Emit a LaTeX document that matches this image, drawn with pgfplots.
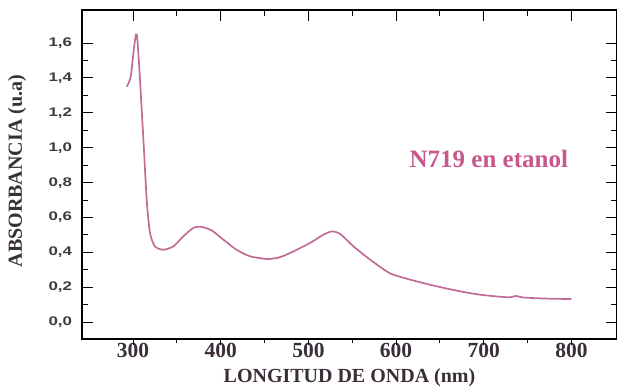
\documentclass[border=0pt]{standalone}
\usepackage{pgfplots}
\pgfplotsset{compat=1.18}
\usepackage{fontspec}
\setmainfont{Liberation Serif}
\newfontfamily\ysans[FakeStretch=1.35]{Liberation Sans}
\definecolor{curvec}{RGB}{192,108,150}
\definecolor{textc}{RGB}{200,88,140}
\definecolor{xlabc}{RGB}{58,46,56}
\definecolor{ylabc}{RGB}{60,60,60}
\begin{document}
\begin{tikzpicture}
\useasboundingbox (-82pt,-47pt) rectangle (535pt,339pt);
\begin{axis}[
  scale only axis, width=535pt, height=329pt,
  xmin=241.8, xmax=852, ymin=-0.097, ymax=1.79,
  xtick={300,400,500,600,700,800},
  ytick={0,0.2,0.4,0.6,0.8,1.0,1.2,1.4,1.6},
  minor x tick num=1, minor y tick num=1,
  tick align=inside,
  xtick pos=upper, xticklabel pos=lower,
  ytick pos=both, yticklabel pos=left,
  major tick length=11pt, minor tick length=6pt,
  every tick/.style={black, line width=1pt},
  axis line style={line width=1.1pt, black},
  /pgf/number format/assume math mode=true,
  yticklabel style={/pgf/number format/.cd, use comma, fixed, fixed zerofill, precision=1,
     /tikz/.cd, font=\ysans\bfseries\fontsize{12.5}{14}\selectfont, text=ylabc, xshift=-6.5pt},
  xticklabel style={font=\bfseries\fontsize{21.5}{23}\selectfont, text=xlabc, inner sep=1pt, yshift=-3pt},
  xlabel={LONGITUD DE ONDA (nm)},
  ylabel={ABSORBANCIA (u.a)},
  xlabel style={at={(axis description cs:0.5,0)}, anchor=center, yshift=-39pt,
     font=\bfseries\fontsize{20}{22}\selectfont, text=xlabc},
  ylabel style={at={(axis description cs:-0.1215,0.51)}, anchor=center,
     font=\bfseries\fontsize{20}{22}\selectfont, text=xlabc},
]
\addplot[curvec, line width=1.7pt, smooth, tension=0.4] coordinates {
(292.8,1.35) (297.4,1.41) (304.2,1.65) (311,1.12) (315.6,0.70) (319.4,0.51)
(325,0.434) (334.6,0.415) (346,0.434) (357,0.49) (368.7,0.54) (378,0.546)
(389.7,0.526) (403,0.473) (418,0.415) (433.6,0.377) (452.6,0.362) (466,0.37)
(479,0.396) (502,0.454) (517,0.501) (526.7,0.52) (536,0.507) (551.5,0.434)
(570.5,0.358) (593,0.28) (615,0.245) (639,0.214) (660,0.19) (680,0.17)
(696,0.157) (715,0.147) (730,0.142) (737,0.15) (745,0.141) (770,0.135) (800,0.132)
};
\node[anchor=base, text=textc, font=\bfseries\fontsize{25}{27}\selectfont] at (axis cs:705.8,0.886) {N719 en etanol};
\end{axis}
\begin{axis}[
  scale only axis, width=535pt, height=329pt,
  xmin=241.8, xmax=852, ymin=-0.097, ymax=1.79,
  hide y axis,
  xtick={300,400,500,600,700,800},
  minor x tick num=1,
  tick align=outside, xtick pos=lower,
  xticklabels={},
  major tick length=6pt, minor tick length=4pt,
  every tick/.style={black, line width=1pt},
  axis line style={line width=1.1pt, black},
]
\end{axis}
\end{tikzpicture}
\end{document}
